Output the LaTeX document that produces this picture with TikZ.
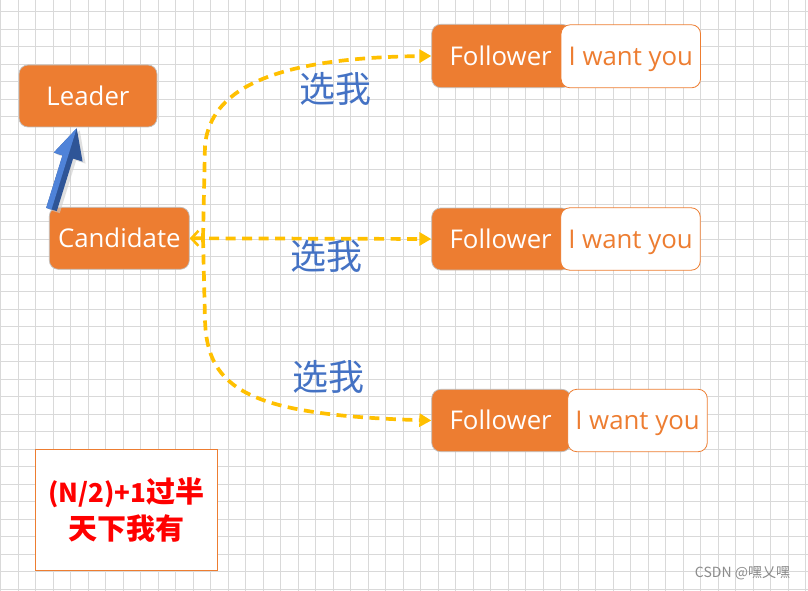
\documentclass[tikz,border=0pt]{standalone}
\usepackage{fontspec}
\setmainfont{Open Sans}
\newfontfamily\cjk{Noto Sans CJK SC}
\usetikzlibrary{arrows.meta}
\definecolor{orng}{HTML}{ED7D31}
\definecolor{yel}{HTML}{FFC000}
\definecolor{lblue}{HTML}{4472C4}
\definecolor{gridc}{HTML}{D9D9D9}
\definecolor{arrL}{HTML}{4F83D9}
\definecolor{arrD}{HTML}{2F5597}
\tikzset{
  obox/.style={draw=black!25, line width=0.7pt, fill=orng, rounded corners=9pt, text=white,
    inner sep=0pt, minimum width=139pt, minimum height=62pt, text height=21.5pt, text depth=2.9pt,
    font=\fontsize{25.8}{28}\selectfont},
  wbox/.style={draw=orng, line width=0.8pt, fill=white, rounded corners=9pt, text=orng,
    inner sep=0pt, minimum width=139.5pt, minimum height=63pt, text height=21.5pt, text depth=2.9pt,
    font=\fontsize{25.8}{28}\selectfont},
  pick/.style={text=lblue, font=\cjk\fontsize{36}{40}\selectfont, inner sep=0pt},
  vote/.style={draw=yel, line width=3.7pt, dash pattern=on 10pt off 6.5pt},
  tri/.style={-{Triangle[length=12pt,width=13pt]}},
}
\begin{document}
\begin{tikzpicture}[x=1pt,y=-1pt]
\useasboundingbox (0,0) rectangle (808,591);
\fill[white] (0,0) rectangle (808,591);
% grid
\foreach \i in {0,...,46} {\draw[gridc, line width=0.9pt] ({0.5+17.5*\i},0) -- ({0.5+17.5*\i},591);}
\foreach \j in {0,...,33} {\draw[gridc, line width=0.9pt] (0,{11.7+17.5*\j}) -- (808,{11.7+17.5*\j});}

% nodes
\node[obox, minimum width=138pt] (leader) at (88,96) {Leader};
\node[obox, minimum width=140pt] (cand) at (119.3,238.3) {Candidate};

\node[obox, minimum height=63.4pt] (f1) at (501.2,56) {Follower\hspace*{1pt}};
\node[wbox] (w1) at (630.8,56.3) {I want you};
\node[obox] (f2) at (501.2,239) {Follower\hspace*{1pt}};
\node[wbox, minimum height=62.4pt] (w2) at (630.5,239) {I want you};
\node[obox, minimum height=62.4pt] (f3) at (501.2,420.5) {Follower\hspace*{1pt}};
\node[wbox, minimum height=62.4pt] (w3) at (637.5,420.5) {I want you};

% note box
\node[draw=orng, line width=0.8pt, fill=white, minimum width=181.5pt, minimum height=121pt, inner sep=0pt,
  text=red, align=center, font=\cjk\bfseries\fontsize{29}{37.6}\selectfont] (note) at (126.3,509.9)
  {{\fontsize{26}{37.6}\selectfont(N/2)+1}过半\\天下我有};

% labels
\node[pick] (p1) at (335,89) {选我};
\node[pick] (p2) at (326.5,256) {选我};
\node[pick] (p3) at (328.5,377) {选我};

% connectors
\coordinate (split) at (203,238);
\coordinate (up) at (205,145);
\coordinate (down) at (205,320);
\draw[vote, {Straight Barb[length=7pt,width=15pt,line width=2.6pt]}-{Triangle[length=12pt,width=13pt]}] (cand.east) -- (f2.west);
\draw[vote, tri] (split) -- (up) .. controls (210,100) and (250,58) .. (f1.west);
\draw[vote, tri] (split) -- (down) .. controls (207,390) and (250,415) .. (f3.west);

% 3D block arrow from Candidate to Leader
\coordinate (tip) at (76.7,128.3);
\coordinate (hr) at (82.6,161.6);
\coordinate (hl) at (53.8,152.6);
\coordinate (sr) at (73.1,158.6);
\coordinate (sl) at (62.5,155.4);
\coordinate (tr) at (56.8,211.1);
\coordinate (tl) at (46.2,207.9);
\coordinate (bc) at (67.8,157);
\coordinate (tc) at (51.5,209.5);
\fill[black!20, opacity=0.6] ([shift={(3,2)}]tip) -- ([shift={(3,2)}]hr) -- ([shift={(3,2)}]sr) -- ([shift={(3,2)}]tr) -- ([shift={(3,2)}]tl) -- ([shift={(3,2)}]sl) -- ([shift={(3,2)}]hl) -- cycle;
\fill[arrD] (tip) -- (hr) -- (sr) -- (tr) -- (tl) -- (sl) -- (hl) -- cycle;
\fill[arrL] (tl) -- (sl) -- (hl) -- (tip) -- (bc) -- (tc) -- cycle;

% watermark
\node[text=black!45, font=\cjk\fontsize{14}{16}\selectfont, inner sep=0pt] (wm) at (742.5,573) {CSDN @嘿乂嘿};
\end{tikzpicture}
\end{document}
